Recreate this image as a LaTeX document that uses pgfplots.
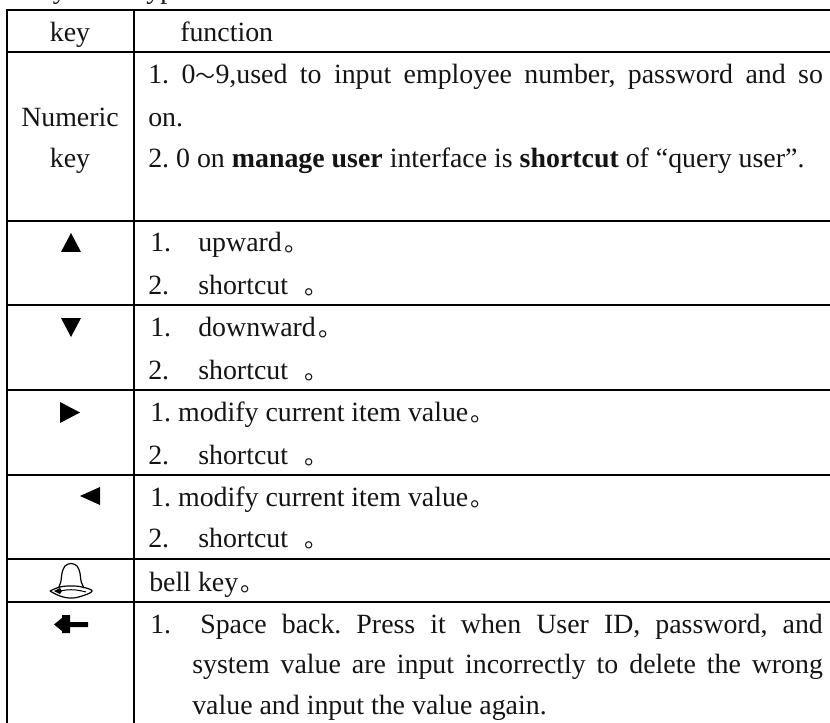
\documentclass[border=0pt]{standalone}
\usepackage{pgfplots}
\pgfplotsset{compat=1.18}
\usepackage{fontspec}
\setmainfont{Liberation Serif}
\newfontfamily\cjk{Noto Sans CJK SC}
\newcommand{\fs}{\fontsize{20.9}{24}\selectfont\frenchspacing}
\newcommand{\T}[3]{\node[anchor=base west,inner sep=0pt,font=\fs,text=black!92] at (axis cs:#1,#2) {#3};}
\newcommand{\C}[3]{\node[anchor=base,inner sep=0pt,font=\fs,text=black!92] at (axis cs:#1,#2) {#3};}
\newcommand{\ring}{\hspace{2pt}{\cjk\fontsize{18}{20}\selectfont 。}}
\begin{document}
\begin{tikzpicture}[x=1pt,y=1pt]
\path[use as bounding box,clip] (0,0) rectangle (622.5,542.25);
\begin{axis}[at={(0,0)},anchor=south west,scale only axis,width=622.5pt,height=542.25pt,
  xmin=0,xmax=830,ymin=0,ymax=723,y dir=reverse,hide axis,clip=true]
% table rules
\addplot[black,line width=1.5pt] coordinates {(6,10.3) (830,10.3)};
\addplot[black,line width=1.5pt] coordinates {(6,52.3) (830,52.3)};
\addplot[black,line width=1.5pt] coordinates {(6,220.7) (830,220.7)};
\addplot[black,line width=1.5pt] coordinates {(6,305.3) (830,305.3)};
\addplot[black,line width=1.5pt] coordinates {(6,390) (830,390)};
\addplot[black,line width=1.5pt] coordinates {(6,475) (830,475)};
\addplot[black,line width=1.5pt] coordinates {(6,559) (830,559)};
\addplot[black,line width=1.5pt] coordinates {(6,601.7) (830,601.7)};
\addplot[black,line width=1.5pt] coordinates {(7,9.5) (7,723)};
\addplot[black,line width=1.5pt] coordinates {(133.7,9.5) (133.7,723)};
% key glyphs
\addplot[black,fill=black,draw=none] coordinates {(71,233) (81,252) (61,252)} --cycle;
\addplot[black,fill=black,draw=none] coordinates {(61,318) (81,318) (71,337)} --cycle;
\addplot[black,fill=black,draw=none] coordinates {(60,402) (80,412.5) (60,423)} --cycle;
\addplot[black,fill=black,draw=none] coordinates {(100,487) (100,505) (80,496)} --cycle;
% bell
\addplot[black,line width=0.9pt,smooth,tension=0.6] coordinates {(58.5,588) (61,581) (62,573) (65,566) (71,563.5) (77,566) (80,573) (81,581) (84,588)};
\addplot[black,line width=0.9pt,smooth,tension=0.7] coordinates {(50,591) (60,587) (71,586) (82,587) (92,591) (82,596) (71,598) (60,596) (50,591)};
\addplot[black,line width=0.75pt,smooth,tension=0.7] coordinates {(57,592) (66,590) (76,590) (86,592)};
\addplot[black,fill=black,draw=none] coordinates {(54,591) (60,588) (62,591) (60,594)} --cycle;
% backspace arrow
\addplot[black,fill=black,draw=none] coordinates {(54,624.5) (62,618) (62,615) (70,615) (70,622) (88,622) (88,627) (70,627) (70,633) (62,633) (62,631)} --cycle;
% left column
\C{70}{41.5}{key}
\C{70}{127}{Numeric}
\C{70}{168}{key}
% header and first cell
\T{180}{41.5}{function}
\T{148}{84}{\makebox[506pt][s]{1. 0{\cjk\fontsize{15}{18}\selectfont ～}9,used to input employee number, password and so}}
\T{148}{126.7}{on.}
\T{148}{168}{2. 0 on \textbf{manage user} interface is \textbf{shortcut} of “query user”.}
% up
\T{150}{252}{1.}\T{198}{252}{upward\ring}
\T{148}{294}{2.}\T{198}{294}{shortcut\hspace{10pt}\ring}
% down
\T{150}{336}{1.}\T{198}{336}{downward\ring}
\T{148}{379}{2.}\T{198}{379}{shortcut\hspace{10pt}\ring}
% right
\T{150}{421.7}{1. modify current item value\ring}
\T{148}{464}{2.}\T{198}{464}{shortcut\hspace{10pt}\ring}
% left
\T{150}{506}{1. modify current item value\ring}
\T{148}{547.5}{2.}\T{198}{547.5}{shortcut\hspace{10pt}\ring}
% bell key
\T{149}{591}{bell key\ring}
% backspace
\T{150}{633}{1.}\T{200}{633}{\makebox[467pt][s]{Space back. Press it when User ID, password, and}}
\T{192}{673.5}{\makebox[473pt][s]{system value are input incorrectly to delete the wrong}}
\T{192}{714}{value and input the value again.}
% clipped caption at the top
\T{20}{-1}{Key\hspace{54pt}type}
\end{axis}
\end{tikzpicture}
\end{document}
